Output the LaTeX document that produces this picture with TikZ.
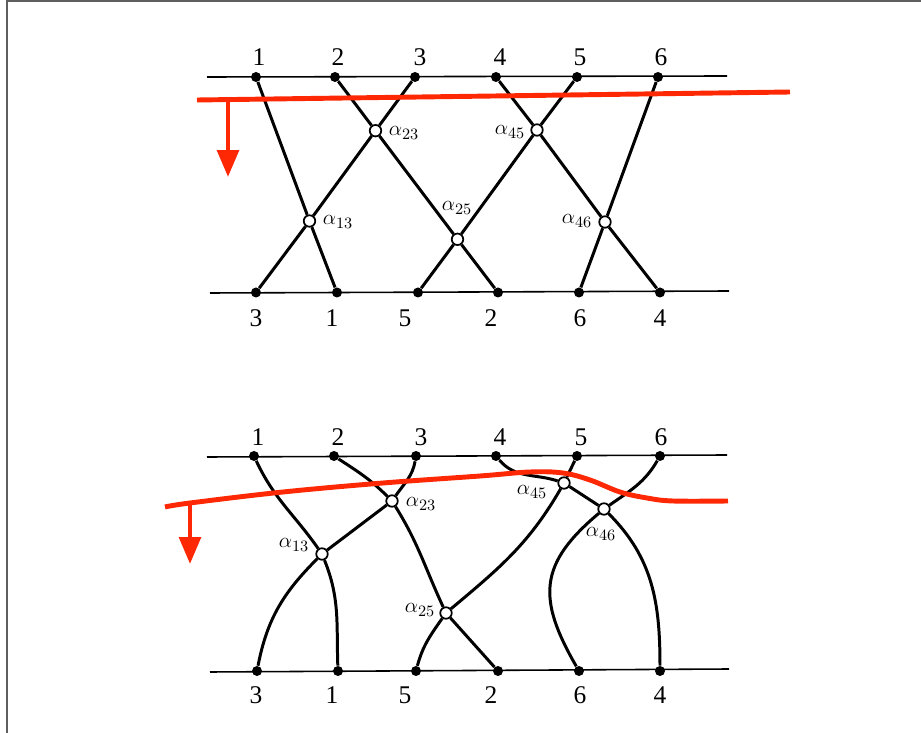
\documentclass[tikz,border=0pt]{standalone}
\usepackage{fontspec}
\newfontfamily\numfont{Liberation Serif}
\usetikzlibrary{arrows.meta,positioning}
\definecolor{cutred}{RGB}{255,40,5}
\definecolor{framegray}{RGB}{95,95,95}
\tikzset{
  rail/.style={line width=0.9pt},
  strand/.style={line width=1.7pt},
  dot/.style={circle, fill=black, inner sep=0pt, minimum size=0.2cm},
  xing/.style={circle, draw=black, fill=white, line width=1pt, inner sep=0pt, minimum size=0.23cm},
  num/.style={font=\numfont\fontsize{14.5}{16}\selectfont, inner sep=1pt},
  alab/.style={font=\fontsize{12.5}{14}\selectfont, inner sep=1pt},
  redcut/.style={cutred, line width=2.8pt},
  downarrow/.style={cutred, line width=2.6pt, -{Triangle[width=0.43cm,length=0.54cm]}},
}
\begin{document}
\begin{tikzpicture}[x=0.02cm, y=-0.02cm]
  \useasboundingbox (0,0) rectangle (921,733);
  \draw[framegray, line width=0.8pt] (7,733) -- (7,1) -- (921,1);

  % upper picture: straight strands
  \draw[rail] (207,77) -- (727,76);
  \draw[rail] (210,293) -- (729,291);
  \foreach \n/\x in {1/256, 2/335, 3/415, 4/496, 5/577, 6/658}
    \node[dot] (t\n) at (\x,77) {};
  \foreach \n/\x in {3/256, 1/337, 5/418, 2/498, 6/579, 4/660}
    \node[dot] (b\n) at (\x,292.5) {};
  \foreach \n/\x in {1/259, 2/338, 3/420, 4/500, 5/580, 6/661}
    \node[num] (tl\n) at (\x,57) {\n};
  \foreach \n/\x in {3/256, 1/332, 5/405, 2/491, 6/580, 4/660}
    \node[num] (bl\n) at (\x,318) {\n};

  \node[xing] (a13) at (309.5,221) {};
  \node[xing] (a23) at (375.5,130.7) {};
  \node[xing] (a25) at (457.5,239.3) {};
  \node[xing] (a45) at (537,130) {};
  \node[xing] (a46) at (605,222) {};

  \draw[strand] (t1) -- (a13) -- (b1);
  \draw[strand] (t2) -- (a23) -- (a25) -- (b2);
  \draw[strand] (t3) -- (a23) -- (a13) -- (b3);
  \draw[strand] (t4) -- (a45) -- (a46) -- (b4);
  \draw[strand] (t5) -- (a45) -- (a25) -- (b5);
  \draw[strand] (t6) -- (a46) -- (b6);

  \node[alab] (la13) at (338,222) {$\alpha_{13}$};
  \node[alab] (la23) at (404,133) {$\alpha_{23}$};
  \node[alab] (la25) at (457,208) {$\alpha_{25}$};
  \node[alab] (la45) at (510,132) {$\alpha_{45}$};
  \node[alab] (la46) at (577,221) {$\alpha_{46}$};

  \draw[redcut] (197,100) -- (790,92);
  \draw[downarrow] (228,99) -- (228,177);

  % lower picture: bent strands
  \draw[rail] (207,457) -- (727,455);
  \draw[rail] (210,672) -- (729,669);
  \foreach \n/\x in {1/254, 2/334, 3/416, 4/496, 5/577, 6/660}
    \node[dot] (u\n) at (\x,456) {};
  \foreach \n/\x in {3/257, 1/338, 5/416, 2/498, 6/579, 4/660}
    \node[dot] (v\n) at (\x,671) {};
  \foreach \n/\x in {1/258, 2/338, 3/421, 4/500, 5/581, 6/661}
    \node[num] (ul\n) at (\x,437) {\n};
  \foreach \n/\x in {3/256, 1/332, 5/405, 2/491, 6/580, 4/660}
    \node[num] (vl\n) at (\x,695) {\n};

  \node[xing] (c13) at (322,554) {};
  \node[xing] (c23) at (392,501) {};
  \node[xing] (c25) at (446,613) {};
  \node[xing] (c45) at (564,483) {};
  \node[xing] (c46) at (604,509) {};

  \draw[strand] (u1) to[out=-65, in=125] (c13) to[out=-68, in=92] (v1);
  \draw[strand] (u2) to[out=-33, in=135] (c23) to[out=-58, in=115] (c25) -- (v2);
  \draw[strand] (u3) to[out=-100, in=55] (c23) -- (c13) to[out=-135, in=79] (v3);
  \draw[strand] (u4) to[out=-50, in=162] (c45) -- (c46) to[out=-45, in=90] (v4);
  \draw[strand] (u5) -- (c45) to[out=-120, in=40] (c25) to[out=-125, in=75] (v5);
  \draw[strand] (u6) to[out=-120, in=35] (c46) to[out=-140, in=120, looseness=1.3] (v6);

  \node[alab] (lc13) at (294,545) {$\alpha_{13}$};
  \node[alab] (lc23) at (421,504) {$\alpha_{23}$};
  \node[alab] (lc25) at (420,610) {$\alpha_{25}$};
  \node[alab] (lc45) at (532,492) {$\alpha_{45}$};
  \node[alab] (lc46) at (601,534) {$\alpha_{46}$};

  \draw[redcut] plot[smooth, tension=0.6] coordinates
    {(165,507) (190,503) (283,492) (383,483) (480,476) (530,472)
     (563,473) (590,480) (620,492) (647,498) (673,501) (728,501)};
  \draw[downarrow] (190,504) -- (190,564);
\end{tikzpicture}
\end{document}
